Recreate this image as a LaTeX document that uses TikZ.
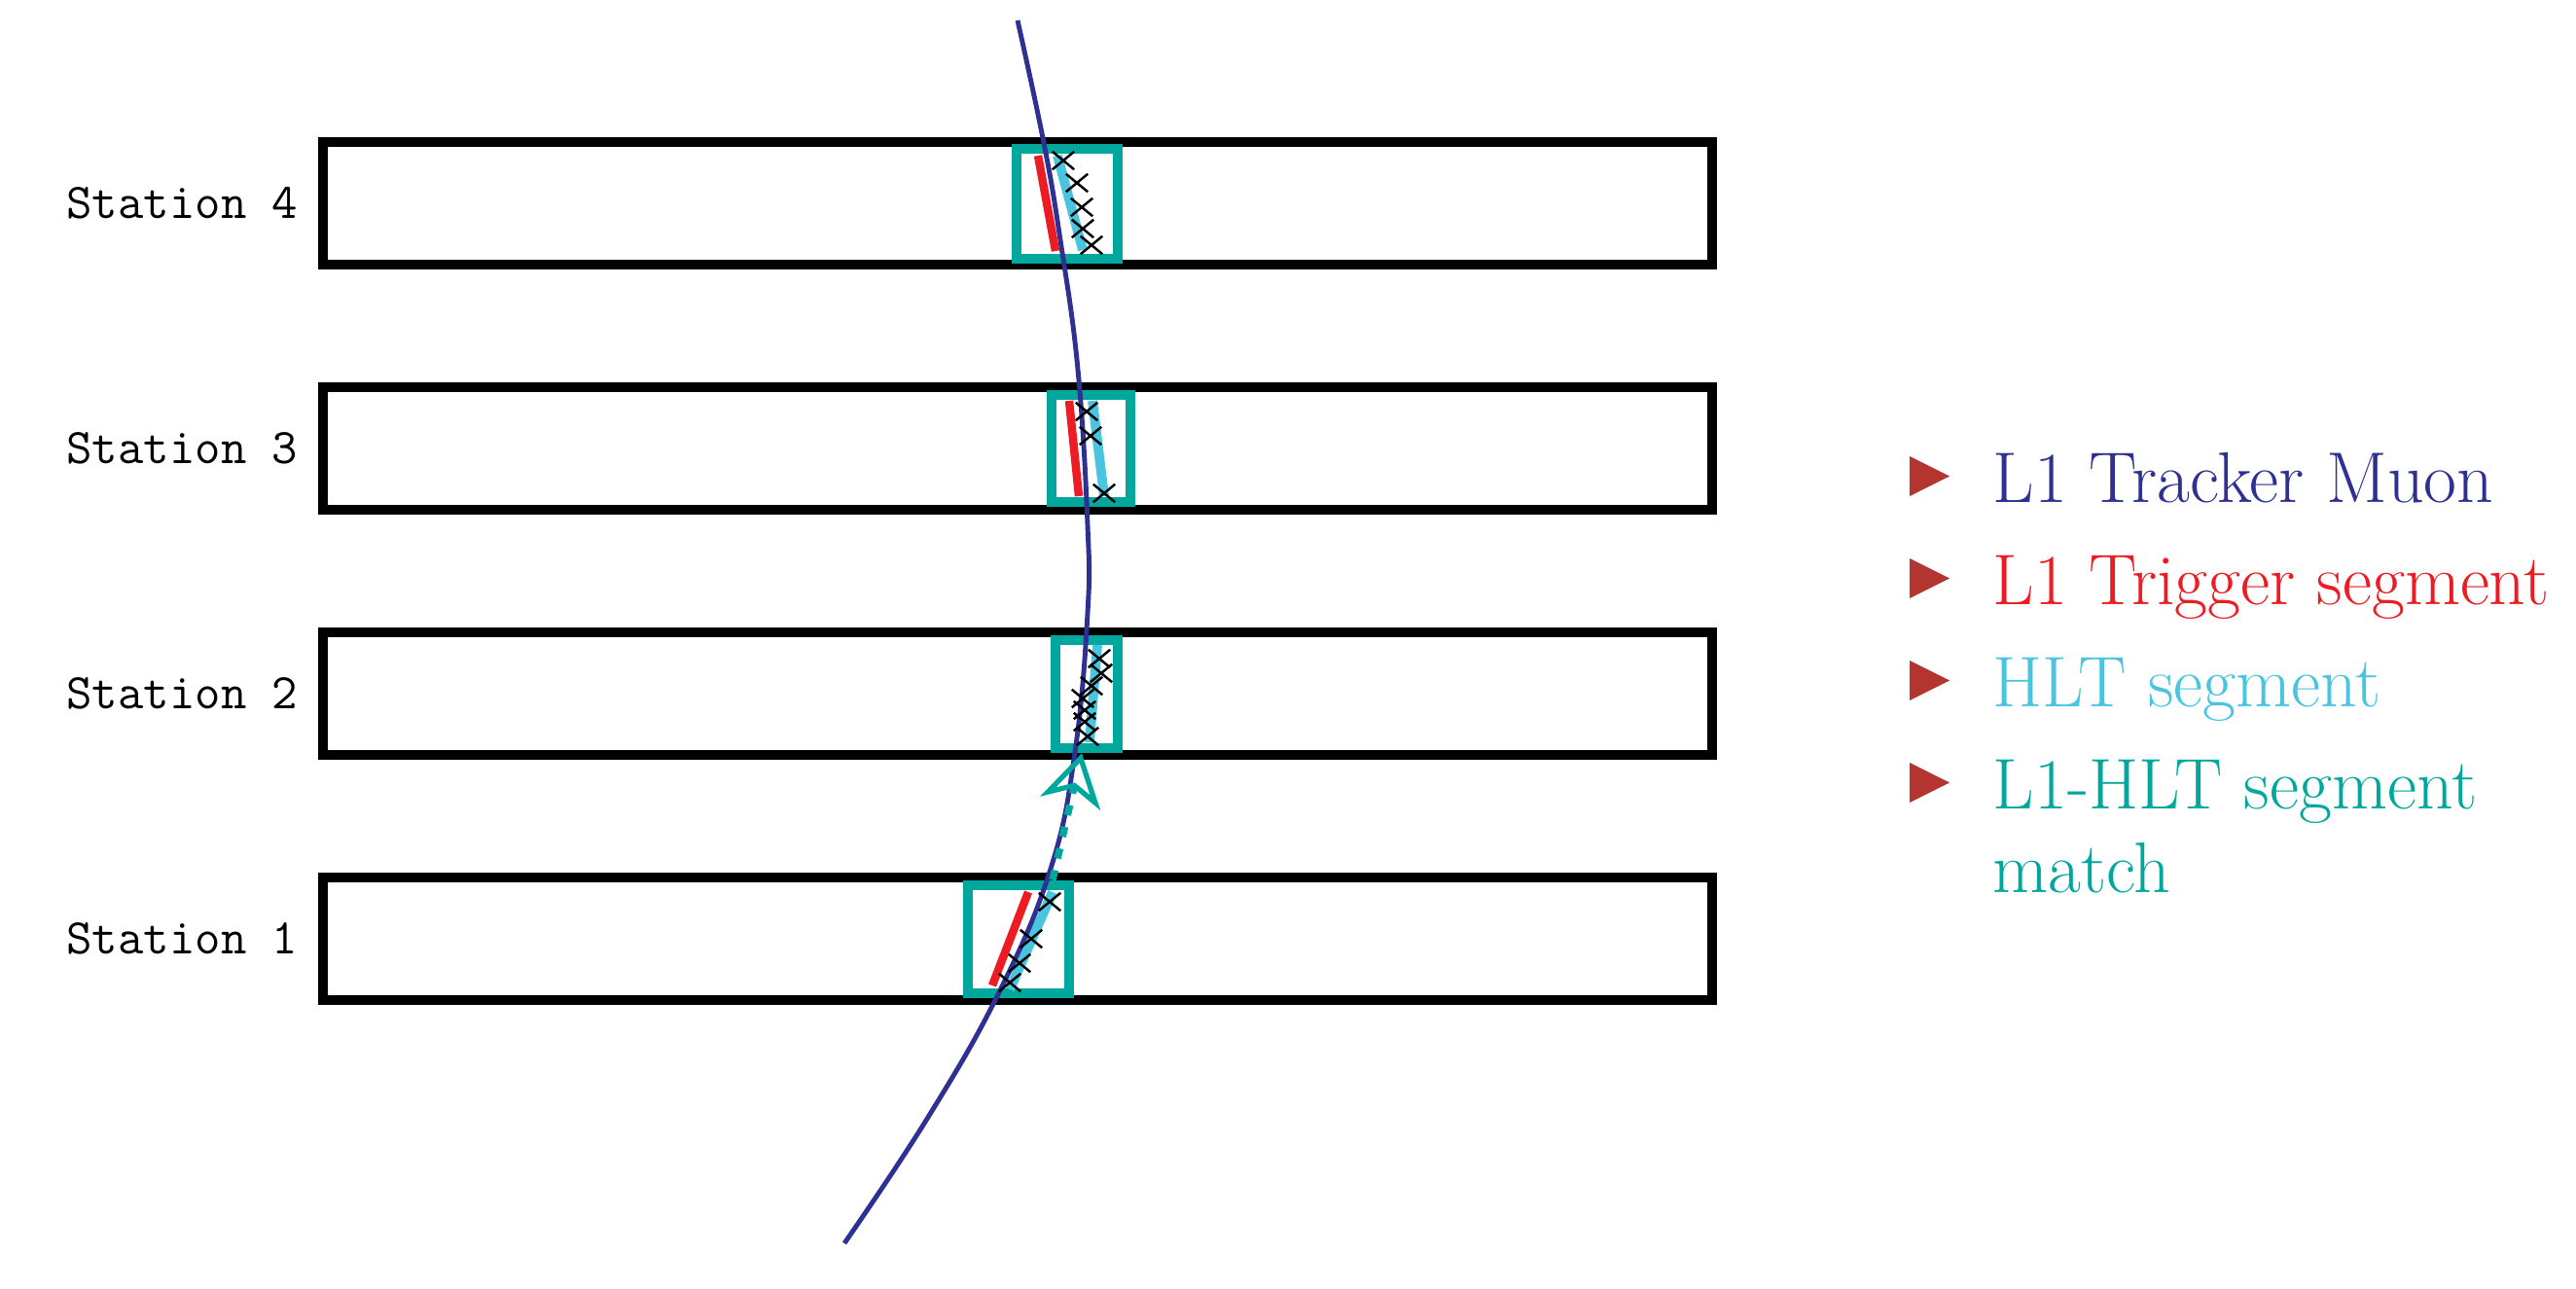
\documentclass[tikz,border=0pt]{standalone}
\usetikzlibrary{positioning,shapes.misc,arrows.meta}

\definecolor{muonblue}{RGB}{46,49,146}
\definecolor{trigred}{RGB}{237,28,36}
\definecolor{hltcyan}{RGB}{74,197,223}
\definecolor{matchteal}{RGB}{0,167,157}
\definecolor{bulletred}{RGB}{180,52,48}

\tikzset{
  chamber/.style={draw=black, line width=2.8pt, minimum width=14.28cm, minimum height=1.26cm, inner sep=0pt, outer sep=0pt},
  stlabel/.style={font=\ttfamily\fontsize{14.6}{17}\selectfont, inner sep=0pt},
  matchbox/.style={draw=matchteal, line width=3pt, inner sep=0pt},
  trigseg/.style={trigred, line width=2.4pt},
  hltseg/.style={hltcyan, line width=2.8pt},
  hit/.style={cross out, draw=black, line width=0.7pt, minimum width=0.2cm, minimum height=0.16cm, inner sep=0pt},
  legend/.style={anchor=base west, inner sep=0pt, align=left, font=\fontsize{21}{24.4}\selectfont},
}

\begin{document}
\begin{tikzpicture}
    \useasboundingbox (0,0) rectangle (26.48,13.24);

    % muon stations
    \node[chamber] (st4) at (10.46,11.15) {};
    \node[chamber] (st3) at (10.46,8.63) {};
    \node[chamber] (st2) at (10.46,6.11) {};
    \node[chamber] (st1) at (10.46,3.59) {};
    \node[stlabel, left=0.25cm of st4] {Station 4};
    \node[stlabel, left=0.25cm of st3] {Station 3};
    \node[stlabel, left=0.25cm of st2] {Station 2};
    \node[stlabel, left=0.25cm of st1] {Station 1};

    % L1-HLT matching windows
    \node[matchbox, minimum width=1.04cm, minimum height=1.13cm] (m4) at (10.97,11.145) {};
    \node[matchbox, minimum width=0.81cm, minimum height=1.10cm] (m3) at (11.215,8.63) {};
    \node[matchbox, minimum width=0.64cm, minimum height=1.11cm] (m2) at (11.17,6.105) {};
    \node[matchbox, minimum width=1.04cm, minimum height=1.11cm] (m1) at (10.47,3.585) {};

    % L1 trigger segments
    \draw[trigseg] (10.67,11.64) -- (10.85,10.66);
    \draw[trigseg] (10.99,9.12) -- (11.09,8.14);
    \draw[trigseg] (10.57,4.07) -- (10.20,3.11);

    % HLT segments
    \draw[hltseg] (10.87,11.64) -- (11.13,10.67);
    \draw[hltseg] (11.23,9.12) -- (11.35,8.14);
    \draw[hltseg] (11.28,6.61) -- (11.20,5.61);
    \draw[hltseg] (10.82,4.07) -- (10.38,3.07);

    % L1 tracker muon
    \draw[muonblue, line width=1.4pt] plot[smooth, tension=0.7] coordinates {(10.46,13.03) (10.73,11.77) (10.90,10.77) (11.08,9.44) (11.18,7.84) (11.18,6.94) (11.05,5.51) (10.80,4.31) (10.27,3.04) (9.53,1.74) (8.68,0.46)};

    % hits
    \foreach \p in {(10.93,11.59),(11.07,11.36),(11.12,11.11),(11.13,10.89),(11.22,10.72),
                    (11.17,9.01),(11.21,8.76),(11.35,8.17),
                    (11.30,6.47),(11.32,6.32),(11.22,6.19),(11.13,6.06),(11.15,5.94),(11.15,5.82),(11.18,5.67),
                    (10.79,3.97),(10.60,3.59),(10.48,3.34),(10.38,3.14)}
        \node[hit] at \p {};

    % propagation to next station
    \draw[matchteal, line width=2.1pt, dash pattern=on 3pt off 3.5pt, -{Stealth[open, length=15pt, width=18pt, inset=4.5pt, line width=1.5pt]}] ([xshift=3.5mm]m1.north) -- ([xshift=-0.5mm]m2.south);

    % legend
    \node[legend, text=muonblue] (l1) at (20.48,8.08) {L1 Tracker Muon};
    \node[legend, text=trigred] (l2) at (20.48,7.03) {L1 Trigger segment};
    \node[legend, text=hltcyan] (l3) at (20.48,5.98) {HLT segment};
    \node[legend, text=matchteal] (l4) at (20.48,4.07) {L1-HLT segment\\match};
    \fill[bulletred] ([shift={(-0.85,0.06)}]l1.base west) -- ++(0,0.41) -- ++(0.41,-0.205) -- cycle;
    \fill[bulletred] ([shift={(-0.85,0.06)}]l2.base west) -- ++(0,0.41) -- ++(0.41,-0.205) -- cycle;
    \fill[bulletred] ([shift={(-0.85,0.06)}]l3.base west) -- ++(0,0.41) -- ++(0.41,-0.205) -- cycle;
    \fill[bulletred] ([shift={(-0.85,0.92)}]l4.base west) -- ++(0,0.41) -- ++(0.41,-0.205) -- cycle;
\end{tikzpicture}
\end{document}
